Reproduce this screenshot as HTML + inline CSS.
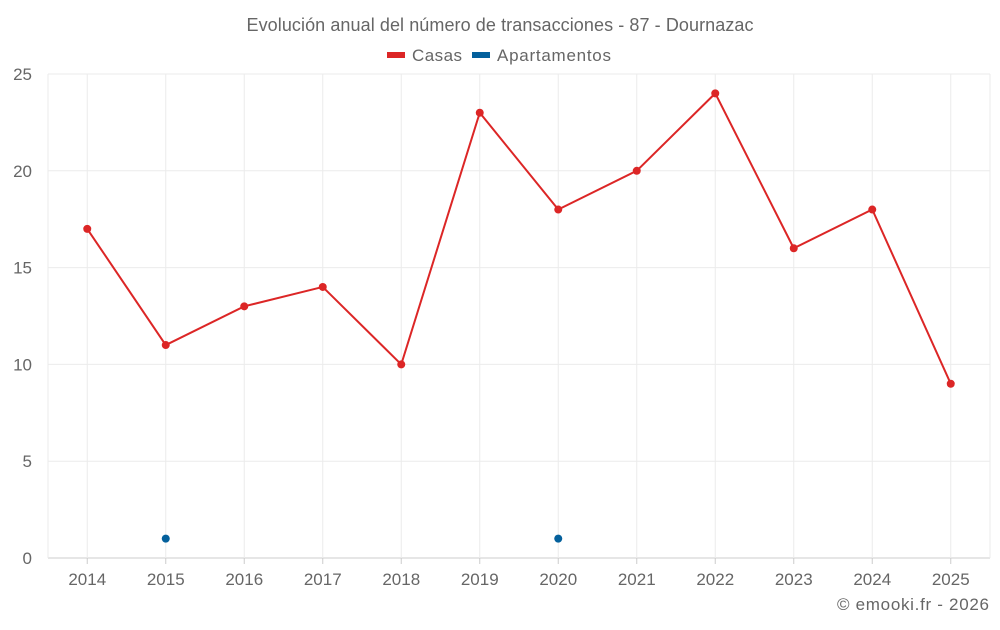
<!DOCTYPE html>
<html><head><meta charset="utf-8"><style>
body{margin:0;background:#fff;}
svg text{font-family:"Liberation Sans",sans-serif;fill:#666;}
</style></head><body>
<svg id="c" width="1000" height="625" xmlns="http://www.w3.org/2000/svg">
<text x="500" y="31" text-anchor="middle" font-size="18" textLength="507">Evolución anual del número de transacciones - 87 - Dournazac</text>
<g>
<g><rect x="387" y="52" width="18" height="6" fill="#dc2626"/><text x="412" y="61" font-size="17" textLength="50">Casas</text></g>
<g><rect x="472" y="52" width="18" height="6" fill="#04609c"/><text x="497" y="61" font-size="17" textLength="114">Apartamentos</text></g>
</g>
<g id="grid"></g><g id="marks"></g>
<text x="989" y="610" text-anchor="end" font-size="17" textLength="152">© emooki.fr - 2026</text>
</svg>
<script>
const categories=["2014","2015","2016","2017","2018","2019","2020","2021","2022","2023","2024","2025"];
const casas=[17,11,13,14,10,23,18,20,24,16,18,9];
const apartamentos=[null,1,null,null,null,null,1,null,null,null,null,null];
const yTicks=[0,5,10,15,20,25];
const L=48,R=990,T=74,B=558,yMax=25;
const band=(R-L)/categories.length;
const x=i=>L+band*(i+0.5);
const y=v=>B-(v/yMax)*(B-T);
const NS="http://www.w3.org/2000/svg";
const g=document.getElementById('grid'),m=document.getElementById('marks');
function mk(tag,at,p){const e=document.createElementNS(NS,tag);for(const k in at)e.setAttribute(k,at[k]);p.appendChild(e);return e;}
yTicks.forEach(t=>{
 const l=mk('line',{x1:L,x2:R,y1:y(t),y2:y(t),stroke:t===0?'#ccc':'#ebebeb'},g);
 
 
 const tx=mk('text',{x:32,y:y(t)+6,'text-anchor':'end','font-size':17},g);tx.textContent=t;
 
 
});
mk('line',{x1:L,x2:L,y1:T,y2:B,stroke:'#ebebeb'},g);
mk('line',{x1:R,x2:R,y1:T,y2:B,stroke:'#ebebeb'},g);
categories.forEach((c,i)=>{
 const l=mk('line',{x1:x(i),x2:x(i),y1:T,y2:B,stroke:'#ebebeb'},g);
 
 
 mk('line',{x1:x(i),x2:x(i),y1:B,y2:B+6,stroke:'#ccc'},g);
 const tx=mk('text',{x:x(i),y:585,'text-anchor':'middle','font-size':17},g);tx.textContent=c;
 
 
});
const pl=mk('polyline',{points:casas.map((v,i)=>x(i)+','+y(v)).join(' '),fill:'none',stroke:'#dc2626','stroke-width':2},m);


casas.forEach((v,i)=>{
 const p=mk('circle',{cx:x(i),cy:y(v),r:4,fill:'#dc2626'},m);
 
 
});
apartamentos.forEach((v,i)=>{
 if(v===null)return;
 const p=mk('circle',{cx:x(i),cy:y(v),r:4,fill:'#04609c'},m);
 
 
});
</script>
</body></html>
